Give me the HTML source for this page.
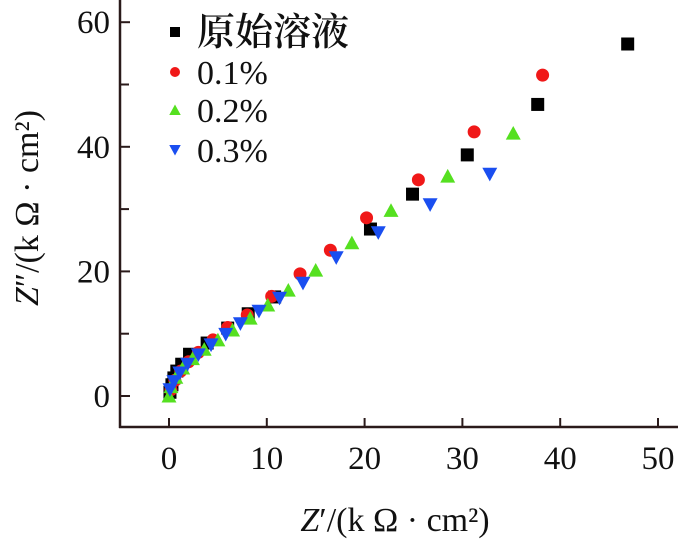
<!DOCTYPE html>
<html><head><meta charset="utf-8"><style>
html,body{margin:0;padding:0;background:#fff}
svg{display:block}
text{font-family:"Liberation Serif","Noto Serif CJK SC",serif;fill:#111}
</style></head><body>
<svg id="chart" width="690" height="542" viewBox="0 0 690 542" xmlns="http://www.w3.org/2000/svg">
<g id="axes"></g>
<g id="marks"></g>
<g id="legend"></g>
<text x="0" y="0" transform="translate(38,208) rotate(-90)" text-anchor="middle" font-size="34"><tspan font-style="italic">Z</tspan>″/(k Ω · cm²)</text>
<text x="395" y="531" text-anchor="middle" font-size="34"><tspan font-style="italic">Z</tspan>′/(k Ω · cm²)</text>
</svg>
<script>
const xTicks=[0,10,20,30,40,50];
const yTicks=[0,20,40,60];
const seriesNames=["原始溶液","0.1%","0.2%","0.3%"];
const blackX=[0.1,0.3,0.5,0.8,1.3,2.1,3.9,6.0,8.1,10.8,20.6,24.9,30.5,37.7,46.9];
const blackY=[0.6,1.8,2.9,4.0,5.1,6.7,8.5,10.9,13.2,15.9,26.8,32.4,38.7,46.8,56.5];
const redX=[0.2,0.6,1.2,2,3,4.5,6,8,10.5,13.4,16.5,20.2,25.5,31.2,38.2];
const redY=[1,2.5,4,5.5,7,9,11,13,16,19.6,23.4,28.6,34.7,42.4,51.5];
const greenX=[0,0.2,0.7,1.4,2.4,3.6,5,6.5,8.3,10.1,12.2,15,18.7,22.7,28.5,35.2];
const greenY=[0,1.5,3,4.5,6,7.5,9,10.6,12.5,14.6,17,20.2,24.6,29.8,35.3,42.2];
const blueX=[0.1,0.5,1.1,1.9,3,4.3,5.8,7.3,9.2,11.3,13.7,17.1,21.4,26.7,32.8];
const blueY=[1,2.3,3.7,5.1,6.6,8.2,9.9,11.6,13.6,15.7,18.1,22.2,26.2,30.7,35.6];

const NS="http://www.w3.org/2000/svg";
const X0=169,XS=9.78,Y0=396,YS=6.23;
const sx=v=>X0+v*XS, sy=v=>Y0-v*YS;
function el(t,a,p){const e=document.createElementNS(NS,t);for(const k in a)e.setAttribute(k,a[k]);p.appendChild(e);return e;}
const axes=document.getElementById('axes'),marks=document.getElementById('marks'),legend=document.getElementById('legend');
const ac="#2a1a1a";
let l=el('line',{x1:120,y1:0,x2:120,y2:428,stroke:ac,'stroke-width':2.5},axes);


l=el('line',{x1:119,y1:427,x2:678,y2:427,stroke:ac,'stroke-width':2.5},axes);


xTicks.forEach(v=>{
 const t=el('line',{x1:sx(v),y1:427,x2:sx(v),y2:418,stroke:ac,'stroke-width':2},axes);
 
 
 const tx=el('text',{x:sx(v),y:469,'text-anchor':'middle','font-size':33},axes);tx.textContent=v;
 
 
});
for(let v=10;v<=60;v+=20){
 const t=el('line',{x1:120,y1:sy(v),x2:129,y2:sy(v),stroke:ac,'stroke-width':2},axes);
 
 
}
yTicks.forEach(v=>{
 const t=el('line',{x1:120,y1:sy(v),x2:130,y2:sy(v),stroke:ac,'stroke-width':2},axes);
 
 
 const tx=el('text',{x:110,y:sy(v)+11,'text-anchor':'end','font-size':33},axes);tx.textContent=v;
 
 
});
function marker(kind,cx,cy,s,parent){
 let e;
 if(kind===0)e=el('rect',{x:cx-s/2,y:cy-s/2,width:s,height:s,fill:'#000'},parent);
 else if(kind===1)e=el('circle',{cx:cx,cy:cy,r:s/2,fill:'#f01818'},parent);
 else if(kind===2)e=el('polygon',{points:`${cx-s/2*1.15},${cy+s/2} ${cx+s/2*1.15},${cy+s/2} ${cx},${cy-s/2*1.1}`,fill:'#55e020'},parent);
 else e=el('polygon',{points:`${cx-s/2*1.15},${cy-s/2} ${cx+s/2*1.15},${cy-s/2} ${cx},${cy+s/2*1.1}`,fill:'#1a4ef0'},parent);
 return e;
}
const all=[[blackX,blackY],[redX,redY],[greenX,greenY],[blueX,blueY]];
const names=['series-original','series-0.1','series-0.2','series-0.3'];
all.forEach((s,k)=>{
 const g=el('g',{},marks);
 
 
 s[0].forEach((x,i)=>{
  const m=marker(k,sx(x),sy(s[1][i]),13,g);
  
  
 });
});
seriesNames.forEach((n,k)=>{
 const y=[32,72,110,150][k];
 const g=el('g',{},legend);
 
 
 marker(k,175,y,10,g);
 const t=el('text',{x:197,y:y+12,'font-size':k===0?38:34},g);t.textContent=n;
 if(k===0){t.setAttribute('font-family','"Noto Serif CJK SC",serif');t.setAttribute('font-weight','600');t.setAttribute('y',y+13);}
});
</script>
</body></html>
